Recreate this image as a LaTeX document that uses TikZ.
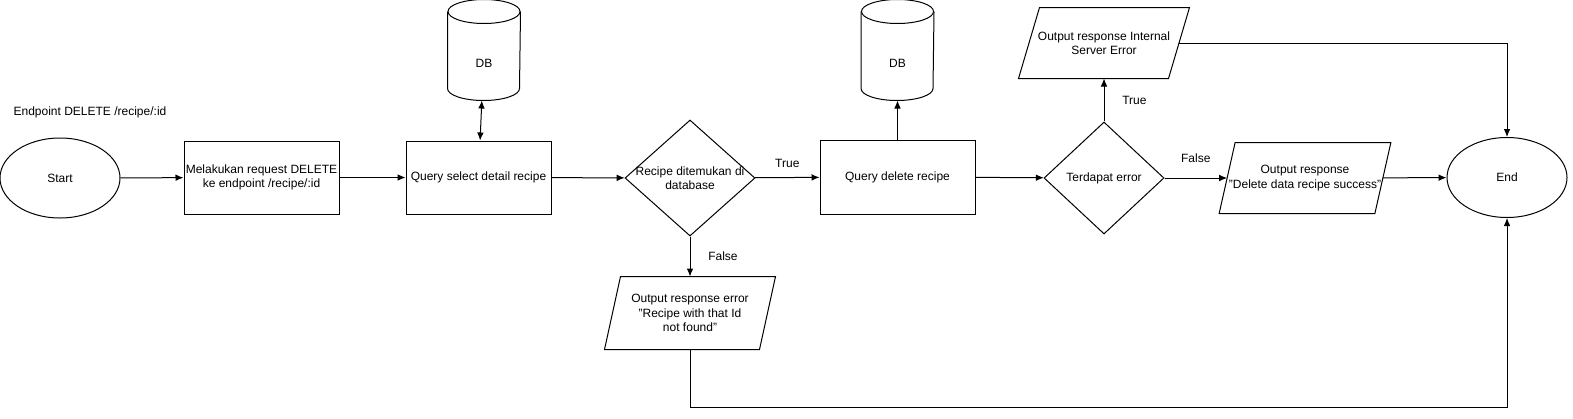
\documentclass[tikz,border=0pt]{standalone}
\usepackage{fontspec}
\setmainfont{Liberation Sans}
\usetikzlibrary{shapes.geometric,arrows.meta}
\begin{document}
\begin{tikzpicture}[>={Latex[length=6pt,width=5pt]},x=0.75pt,y=-0.75pt,line width=0.75pt,
    every node/.style={font=\fontsize{9}{10.8}\selectfont},
    proc/.style={draw,rectangle,align=center,minimum width=116.25pt,minimum height=54.75pt,inner sep=1pt},
    term/.style={draw,ellipse,minimum width=90pt,minimum height=60pt},
    decide/.style={draw,diamond,inner sep=0pt},
    iobox/.style={rectangle,align=center,inner sep=1pt,minimum width=115.5pt,minimum height=52.5pt,
        append after command={\pgfextra{\draw ([xshift=#1]\tikzlastnode.north west)
            -- ([xshift=#1]\tikzlastnode.north east) -- ([xshift=-#1]\tikzlastnode.south east)
            -- ([xshift=-#1]\tikzlastnode.south west) -- cycle;}}},
    iobox/.default=6pt,
    dbase/.style={rectangle,minimum width=54pt,minimum height=75pt,inner sep=0pt,
        label={[yshift=-9.75pt]center:DB},
        append after command={\pgfextra{\draw ([yshift=-9pt]\tikzlastnode.north) ellipse (27pt and 9pt);
            \draw ([yshift=-9pt]\tikzlastnode.north west) -- ([yshift=9pt]\tikzlastnode.south west)
            arc (180:360:27pt and 9pt) -- ([yshift=-9pt]\tikzlastnode.north east);}}}]
        \useasboundingbox (0,0) rectangle (1573,418);
        \node (title) at (90,112) {Endpoint DELETE /recipe/:id};
        \node[term] (start) at (60,178) {Start};
        \node[proc] (req) at (261.5,177.5) {Melakukan request DELETE\\ke endpoint /recipe/:id};
        \node[proc,minimum width=108.75pt] (sel) at (478.5,177.5) {Query select detail recipe};
        \node[dbase] (db1) at (484,50) {};
        \node[decide,minimum width=97.5pt,minimum height=87pt,
            label={[align=center]center:Recipe ditemukan di\\database}] (found) at (690,178) {};
        \node[proc,minimum height=55.5pt] (del) at (897.5,177) {Query delete recipe};
        \node[dbase] (db2) at (897.5,50) {};
        \node[decide,minimum width=90pt,minimum height=84pt,
            label={center:Terdapat error}] (err) at (1104,178) {};
        \node[iobox=7.875pt,minimum width=111.75pt] (ise) at (1104,43) {Output response Internal\\Server Error};
        \node[iobox] (ok) at (1305,178) {Output response\\"Delete data recipe success"};
        \node[iobox,minimum height=54pt] (nf) at (690,313) {Output response error\\"Recipe with that Id\\not found"};
        \node[term] (fin) at (1507,177.5) {End};
        % connectors
        \draw[->] (start) -- (req);
        \draw[->] (req) -- (sel);
        \draw[<->] (db1) -- (sel);
        \draw[->] (sel) -- (found);
        \draw[->] (found) -- node[above=4pt]{True} (del);
        \draw[->] (del) -- (db2);
        \draw[->] (del) -- (err);
        \draw[->] (err) -- node[right=10pt]{True} (ise);
        \draw[->] (err) -- node[above=8pt]{False} (ok);
        \draw[->] (ise) -| (fin);
        \draw[->] (ok) -- (fin);
        \draw[->] (found) -- node[right=10pt]{False} (nf);
        \draw[->] (nf.south) -- ++(0,58) -| (fin);
    \end{tikzpicture}
\end{document}
